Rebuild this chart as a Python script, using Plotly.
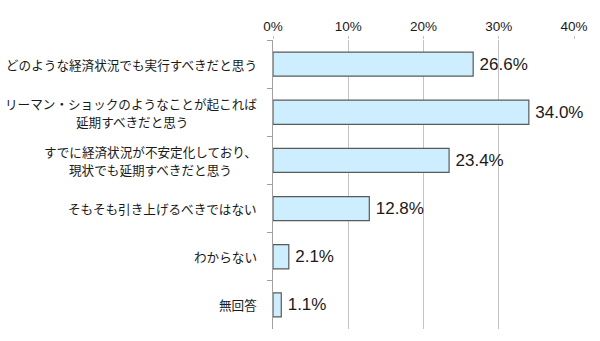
import plotly.graph_objects as go

# Survey answers (share of respondents, %)
categories = [
    "どのような経済状況でも実行すべきだと思う",
    "リーマン・ショックのようなことが起これば<br>延期すべきだと思う",
    "すでに経済状況が不安定化しており、<br>現状でも延期すべきだと思う",
    "そもそも引き上げるべきではない",
    "わからない",
    "無回答",
]
values = [26.6, 34.0, 23.4, 12.8, 2.1, 1.1]
x_ticks = [0, 10, 20, 30, 40]
x_tick_labels = ["0%", "10%", "20%", "30%", "40%"]

cat_ids = [f"c{i}" for i in range(len(categories))]

fig = go.Figure(
    go.Bar(
        x=values,
        y=cat_ids,
        orientation="h",
        width=0.5,
        marker=dict(color="#cdeeff", line=dict(color="#5a5a5a", width=1.2)),
        text=["\u2009" + f"{v:.1f}%" for v in values],
        textposition="outside",
        textfont=dict(family="Liberation Sans, Arial, sans-serif", size=17, color="#1a1a1a"),
        cliponaxis=False,
        hoverinfo="skip",
    )
)

# Category labels: each line placed separately, centred on a common axis
LINE_STEP = 18
FONT_SIZE = 12.6
for cid, label in zip(cat_ids, categories):
    lines = label.split("<br>")
    n = len(lines)
    longest = max(len(s) for s in lines)
    for k, line in enumerate(lines):
        offset = ((n - 1) / 2 - k) * LINE_STEP
        # shift shorter lines left so every line is centred under the longest one
        pad = (longest - len(line)) * FONT_SIZE / 2
        fig.add_annotation(
            x=0, xref="x", y=cid, yref="y",
            text=line, showarrow=False,
            xanchor="right", yanchor="middle", align="right",
            xshift=-15 - pad, yshift=offset, borderpad=0,
            font=dict(family="Noto Sans CJK JP, sans-serif", size=FONT_SIZE, color="#1a1a1a"),
        )

fig.update_layout(
    width=600, height=341,
    margin=dict(l=273, r=23, t=40, b=12),
    paper_bgcolor="white", plot_bgcolor="white",
    showlegend=False,
    font=dict(family="Liberation Sans, Arial, sans-serif"),
)
fig.update_xaxes(
    side="top", range=[0, 40],
    tickvals=x_ticks, ticktext=x_tick_labels,
    tickfont=dict(size=13.5, color="#1a1a1a"),
    showgrid=True, gridcolor="#c4c4c4", gridwidth=1,
    zeroline=False, showline=False,
    ticks="outside", ticklen=3, tickcolor="#c4c4c4",
    fixedrange=True,
)
fig.update_yaxes(
    type="category", categoryorder="array", categoryarray=cat_ids,
    autorange="reversed",
    showticklabels=False,
    showline=True, linecolor="#a0a0a0", linewidth=1,
    ticks="outside", tickson="boundaries", ticklen=5, tickcolor="#a0a0a0",
    showgrid=False, zeroline=False,
    fixedrange=True,
)

fig.write_html("out.html")
